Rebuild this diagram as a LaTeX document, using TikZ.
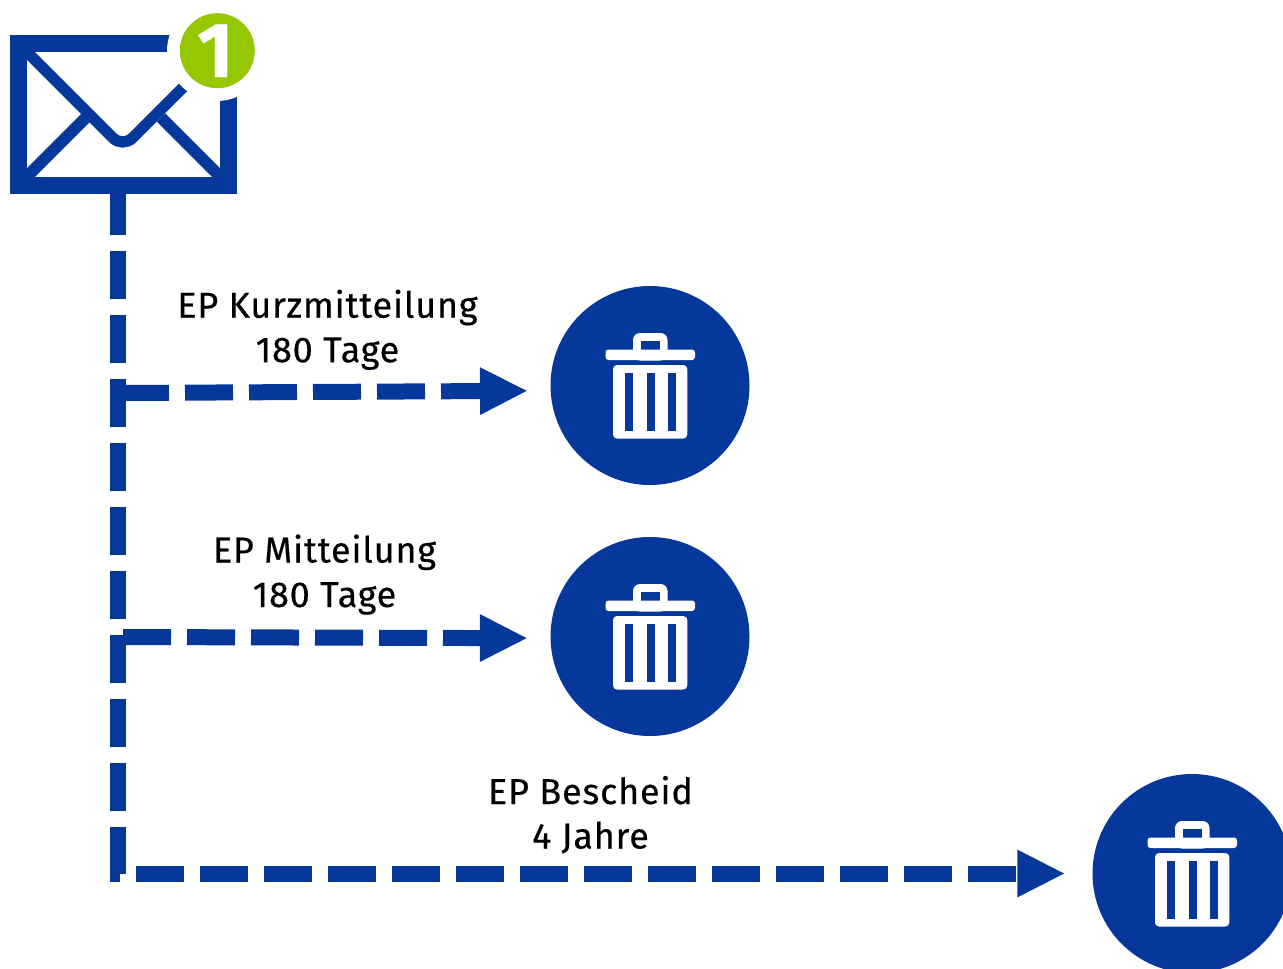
\documentclass[tikz,border=0pt]{standalone}
\usepackage{fontspec}
\setmainfont{Fira Sans}[LetterSpace=2.2, FakeBold=0.35]
\usetikzlibrary{arrows.meta}
\definecolor{epblue}{RGB}{6,56,155}
\definecolor{epgreen}{RGB}{149,200,0}
\tikzset{
  flowline/.style={draw=epblue, line width=16pt, dash pattern=on 48pt off 16pt, -{Triangle[length=48pt,width=44pt]}},
  trashnode/.style={circle, fill=epblue, inner sep=0pt, minimum size=199pt},
  caption/.style={align=center, font=\fontsize{36}{44.5}\selectfont, inner sep=0pt, anchor=base}
}
\newcommand{\trashbin}[2]{
  \begin{scope}[shift={(#1,#2)}]
    \fill[white, rounded corners=7pt] (-17,-25) -- (-17,-52.5) -- (17.5,-52.5) -- (17.5,-25) -- cycle;
    \fill[epblue] (-9,-44.5) rectangle (10,-36);
    \fill[white, rounded corners=3pt] (-44.5,-25.5) -- (-44.5,-36) -- (45,-36) -- (45,-25.5) -- cycle;
    \fill[white, rounded corners=4pt] (-37,-20.5) -- (-37,53) -- (37.3,53) -- (37.3,-20.5) -- cycle;
    \foreach \slot in {-25,-3.5,17.5}
      \fill[epblue] (\slot,-12.5) rectangle (\slot+8,45);
  \end{scope}
}
\begin{document}
\begin{tikzpicture}[x=1pt, y=-1pt]
  \clip (0,0) rectangle (1283,969);
  % envelope
  \draw[epblue, line width=11.3pt, rounded corners=14pt] (21,46) -- (122.75,147.75) -- (192,78.5);
  \draw[epblue, line width=11.8pt] (21,182.5) -- (86,117.5);
  \draw[epblue, line width=11.8pt] (161,117.5) -- (225,181.5);
  \node[draw=epblue, line width=17pt, minimum width=210pt, minimum height=142pt, inner sep=0pt] (mail) at (123.5,114.5) {};
  \node[circle, fill=white, inner sep=0pt, minimum size=100pt] (ring) at (217,51) {};
  \node[circle, fill=epgreen, inner sep=0pt, minimum size=75pt, text=white, font=\fontsize{78}{78}\selectfont\bfseries] (badge) at (217.3,50.7) {\hspace*{-4pt}\raisebox{-2pt}{1}};
  % bins
  \foreach \name/\x/\y in {trashA/650/385.5, trashB/650/636.5, trashC/1192/873.5} {
    \node[trashnode] (\name) at (\x,\y) {};
    \trashbin{\x}{\y}
  }
  % connectors
  \coordinate (start) at (118,187);
  \coordinate (branchA) at (121,393);
  \coordinate (branchB) at (123,637);
  \draw[flowline, shorten >=27pt] (start) |- (trashC);
  \draw[flowline, shorten >=22.5pt] (branchA) -- (trashA.183);
  \draw[flowline, shorten >=22.5pt] (branchB) -- (trashB.181);
  % texts
  \node[caption] (labelA) at (327.5,362.2) {EP Kurzmitteilung\\180 Tage};
  \node[caption] (labelB) at (324.5,607) {EP Mitteilung\\180 Tage};
  \node[caption] (labelC) at (590.5,848.5) {EP Bescheid\\4 Jahre};
\end{tikzpicture}
\end{document}
